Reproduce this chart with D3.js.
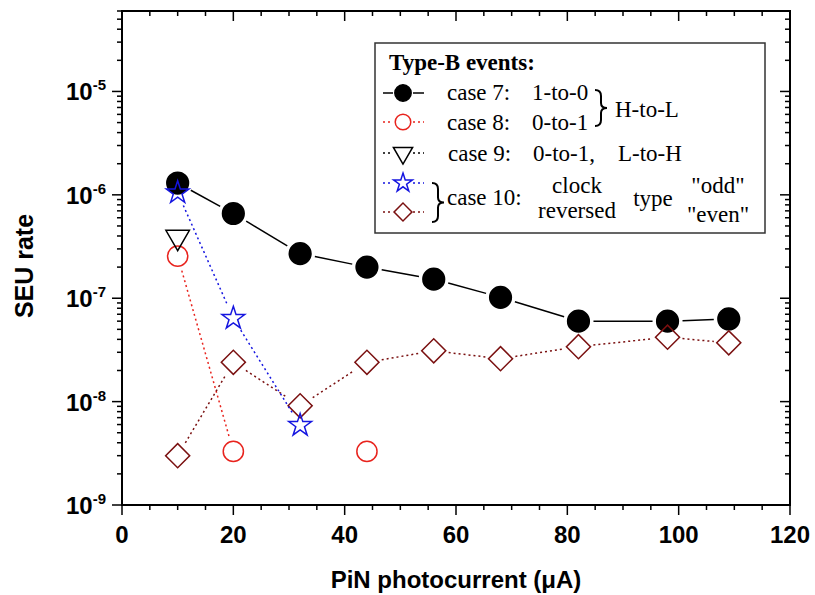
<!DOCTYPE html>
<html>
<head>
<meta charset="utf-8">
<script src="https://cdn.jsdelivr.net/npm/d3@7"></script>
<style>
  body { margin: 0; background: #fff; }
  text { font-family: "Liberation Sans", Arial, sans-serif; }
  .legend text { font-family: "Liberation Serif", "Times New Roman", serif; font-size: 23px; }
</style>
</head>
<body>
<svg id="chart"></svg>
<script>
// data
const case7X = [10, 20, 32, 44, 56, 68, 82, 98, 109]
const case7 = [1.3e-6, 6.6e-7, 2.7e-7, 2.0e-7, 1.53e-7, 1.02e-7, 6.0e-8, 6.0e-8, 6.3e-8]
const case8X = [10, 20, 32, 44]
const case8 = [2.55e-7, 3.3e-9, null, 3.3e-9]
const case9X = [10]
const case9 = [3.9e-7]
const oddX = [10, 20, 32]
const odd = [1.05e-6, 6.4e-8, 5.9e-9]
const evenX = [10, 20, 32, 44, 56, 68, 82, 98, 109]
const even = [3.0e-9, 2.4e-8, 9.1e-9, 2.4e-8, 3.1e-8, 2.6e-8, 3.4e-8, 4.2e-8, 3.7e-8]

const xTicks = [0, 20, 40, 60, 80, 100, 120]
const yExps = [-9, -8, -7, -6, -5]

let chart = {}
chart.width_ = 815
chart.height_ = 595
chart.margin = {top: 11, right: 25, bottom: 90, left: 122}
chart.width = chart.width_ - chart.margin.left - chart.margin.right
chart.height = chart.height_ - chart.margin.top - chart.margin.bottom

chart.svg = d3.select('#chart')
    .attr('width', chart.width_)
    .attr('height', chart.height_)
chart.g = chart.svg.append('g')
    .attr('transform', `translate(${chart.margin.left}, ${chart.margin.top})`)

chart.x = d3.scaleLinear().domain([0, 120]).range([0, chart.width])
chart.y = d3.scaleLog().domain([1e-9, 6e-5]).range([chart.height, 0])

// ticks
const ticks = chart.g.append('g').attr('stroke', 'black').attr('stroke-width', 1.5)
d3.range(0, 121, 5).forEach(v => {
    const major = v % 20 === 0
    const px = chart.x(v)
    ticks.append('line').attr('x1', px).attr('x2', px)
        .attr('y1', chart.height).attr('y2', chart.height + (major ? 10 : 5))
    ticks.append('line').attr('x1', px).attr('x2', px)
        .attr('y1', 0).attr('y2', major ? 10 : 5)
})
for (let e = -9; e <= -5; e++) {
    for (let m = 1; m <= 9; m++) {
        const v = m * Math.pow(10, e)
        if (v > chart.y.domain()[1] * 1.0001) continue
        const py = chart.y(v)
        const len = m === 1 ? 10 : 5
        ticks.append('line').attr('x1', 0).attr('x2', -len).attr('y1', py).attr('y2', py)
        ticks.append('line').attr('x1', chart.width).attr('x2', chart.width - len).attr('y1', py).attr('y2', py)
    }
}

// frame
chart.g.append('rect')
    .attr('width', chart.width).attr('height', chart.height)
    .attr('fill', 'none').attr('stroke', 'black').attr('stroke-width', 2)

// tick labels
chart.g.selectAll('text.xtick').data(xTicks).enter().append('text')
    .attr('class', 'xtick')
    .attr('x', d => chart.x(d))
    .attr('y', chart.height + 38)
    .attr('text-anchor', 'middle')
    .attr('font-size', 24).attr('font-weight', 'bold')
    .text(d => d)

const yLab = chart.g.selectAll('text.ytick').data(yExps).enter().append('text')
    .attr('class', 'ytick')
    .attr('x', -16)
    .attr('y', d => chart.y(Math.pow(10, d)) + 9)
    .attr('text-anchor', 'end')
    .attr('font-size', 24).attr('font-weight', 'bold')
yLab.append('tspan').text('10')
yLab.append('tspan').attr('dy', -10).attr('font-size', 15).text(d => d)

// axis titles
chart.g.append('text')
    .attr('x', chart.width / 2).attr('y', chart.height + 83)
    .attr('text-anchor', 'middle')
    .attr('font-size', 24).attr('font-weight', 'bold')
    .text('PiN photocurrent (\u03bcA)')
chart.g.append('text')
    .attr('transform', `translate(${-89}, ${chart.height / 2 + 8}) rotate(-90)`)
    .attr('text-anchor', 'middle')
    .attr('font-size', 25).attr('font-weight', 'bold')
    .text('SEU rate')

// markers
const symbols = {
    circle: d3.symbol(d3.symbolCircle, 370),
    ocircle: d3.symbol(d3.symbolCircle, 320),
    triangle: d3.symbol(d3.symbolTriangle, 240),
    star: d3.symbol(d3.symbolStar, 160),
    diamond: d3.symbol(d3.symbolSquare, 290)
}
const rotation = {circle: 0, ocircle: 0, triangle: 180, star: 0, diamond: 45}

const series = [
    {xs: case7X, ys: case7, color: 'black', fill: 'black', dash: null, sym: 'circle', gap: 15},
    {xs: case8X, ys: case8, color: '#e8231d', fill: 'none', dash: '2,3', sym: 'ocircle', gap: 15},
    {xs: case9X, ys: case9, color: 'black', fill: 'none', dash: '2,3', sym: 'triangle', gap: 14},
    {xs: evenX, ys: even, color: '#7a1010', fill: 'none', dash: '2,3', sym: 'diamond', gap: 15},
    {xs: oddX, ys: odd, color: '#1515e0', fill: 'none', dash: '2,3', sym: 'star', gap: 14}
]

function drawGappedLine(g, pts, gap, color, dash) {
    for (let i = 1; i < pts.length; i++) {
        const a = pts[i - 1], b = pts[i]
        if (!a || !b) continue
        const dx = b[0] - a[0], dy = b[1] - a[1]
        const len = Math.sqrt(dx * dx + dy * dy)
        if (len <= 2 * gap) continue
        const ux = dx / len, uy = dy / len
        g.append('line')
            .attr('x1', a[0] + ux * gap).attr('y1', a[1] + uy * gap)
            .attr('x2', b[0] - ux * gap).attr('y2', b[1] - uy * gap)
            .attr('stroke', color).attr('stroke-width', 1.5)
            .attr('stroke-dasharray', dash)
    }
}

series.forEach(s => {
    const sg = chart.g.append('g')
    const pts = s.xs.map((x, i) => s.ys[i] == null ? null : [chart.x(x), chart.y(s.ys[i])])
    drawGappedLine(sg, pts, s.gap, s.color, s.dash)
    sg.selectAll('path.mark').data(pts.filter(p => p)).enter().append('path')
        .attr('class', 'mark')
        .attr('d', symbols[s.sym])
        .attr('transform', p => `translate(${p[0]}, ${p[1]}) rotate(${rotation[s.sym]})`)
        .attr('fill', s.fill)
        .attr('stroke', s.color)
        .attr('stroke-width', 1.5)
})

// legend
const legend = chart.svg.append('g').attr('class', 'legend')
legend.append('rect')
    .attr('x', 375).attr('y', 43).attr('width', 390).attr('height', 190)
    .attr('fill', 'white').attr('stroke', '#333').attr('stroke-width', 1.5)
legend.append('text').attr('x', 389).attr('y', 70)
    .attr('font-weight', 'bold').style('font-size', '23px')
    .text('Type-B events:')

const rows = [
    {s: series[0], y: 93, sym: 'circle'},
    {s: series[1], y: 122, sym: 'ocircle'},
    {s: series[2], y: 153, sym: 'triangle'},
    {s: series[4], y: 183, sym: 'star'},
    {s: series[3], y: 212, sym: 'diamond'}
]
rows.forEach(r => {
    legend.append('line')
        .attr('x1', 383).attr('x2', 424).attr('y1', r.y).attr('y2', r.y)
        .attr('stroke', r.s.color).attr('stroke-width', 1.5)
        .attr('stroke-dasharray', r.s.dash)
    legend.append('rect')
        .attr('x', 393).attr('y', r.y - 9).attr('width', 20).attr('height', 18)
        .attr('fill', 'white')
    legend.append('path')
        .attr('d', d3.symbol(d3[{circle: 'symbolCircle', ocircle: 'symbolCircle', triangle: 'symbolTriangle', star: 'symbolStar', diamond: 'symbolSquare'}[r.sym]],
            {circle: 210, ocircle: 190, triangle: 160, star: 110, diamond: 160}[r.sym]))
        .attr('transform', `translate(403, ${r.y}) rotate(${rotation[r.sym]})`)
        .attr('fill', r.s.fill).attr('stroke', r.s.color).attr('stroke-width', 1.5)
})

function txt(x, y, t, anchor) {
    legend.append('text').attr('x', x).attr('y', y)
        .attr('text-anchor', anchor || 'start').text(t)
}
txt(447, 100, 'case 7:')
txt(532, 100, '1-to-0')
txt(447, 130, 'case 8:')
txt(532, 130, '0-to-1')
txt(448, 161, 'case 9:')
txt(533, 161, '0-to-1,')
txt(618, 161, 'L-to-H')
txt(447, 205, 'case 10:')
txt(577, 193, 'clock', 'middle')
txt(577, 218, 'reversed', 'middle')
txt(653, 206, 'type', 'middle')
txt(718, 193, '"odd"', 'middle')
txt(718, 222, '"even"', 'middle')
txt(615, 117, 'H-to-L')

// curly braces
function brace(x, y0, y1) {
    const m = (y0 + y1) / 2
    const w = 6
    const p = d3.path()
    p.moveTo(x - w, y0)
    p.quadraticCurveTo(x, y0, x, y0 + 6)
    p.lineTo(x, m - 5)
    p.quadraticCurveTo(x, m, x + w, m)
    p.quadraticCurveTo(x, m, x, m + 5)
    p.lineTo(x, y1 - 6)
    p.quadraticCurveTo(x, y1, x - w, y1)
    legend.append('path').attr('d', p.toString())
        .attr('fill', 'none').attr('stroke', 'black').attr('stroke-width', 2)
}
brace(601, 90, 126)
brace(438, 183, 222)
</script>
</body>
</html>
